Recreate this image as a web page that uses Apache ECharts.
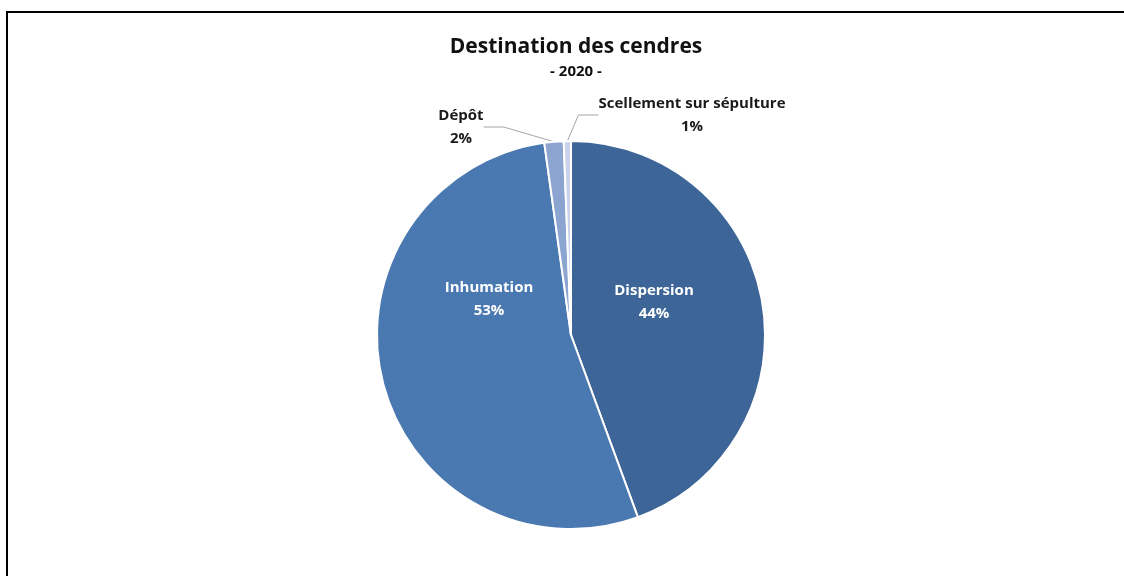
<!DOCTYPE html>
<html>
<head>
<meta charset="utf-8">
<script src="https://cdn.jsdelivr.net/npm/echarts@6/dist/echarts.min.js"></script>
<style>
  html, body { margin: 0; padding: 0; background: #fff; }
  #chart { width: 1124px; height: 576px; }
</style>
</head>
<body>
<div id="chart"></div>
<script>
// parts of the pie, clockwise from 12 o'clock
var categories = ["Dispersion", "Inhumation", "Dépôt", "Scellement sur sépulture"];
var shares = [44.4, 53.4, 1.6, 0.6];
var colors = ["#3d6597", "#4a78b0", "#8ba4d0", "#c9d2ea"];

// label centres, placed by hand like in the original
var labelPos = { 0: [654, 302], 1: [489, 299], 2: [461, 127], 3: [692, 115] };

var chart = echarts.init(document.getElementById("chart"), null, { renderer: "canvas" });

var font = "'Open Sans', 'Liberation Sans', sans-serif";

var data = categories.map(function (name, i) {
  var item = { name: name, value: shares[i], itemStyle: { color: colors[i] } };
  if (i < 2) {
    item.label = { position: "inside", color: "#fff" };
    item.labelLine = { show: false };
  } else {
    item.label = { position: "outside", color: "#1a1a1a" };
    item.labelLine = { show: true, length: 14, length2: 20, lineStyle: { color: "#a6a6a6", width: 1 } };
  }
  return item;
});

chart.setOption({
  animation: false,
  backgroundColor: "#fff",
  graphic: [
    {
      type: "rect",
      shape: { x: 7, y: 12, width: 1200, height: 700 },
      style: { fill: "none", stroke: "#000", lineWidth: 2 }
    }
  ],
  title: {
    text: "Destination des cendres",
    subtext: "- 2020 -",
    left: 571,
    textAlign: "center",
    top: 32,
    itemGap: 6,
    textStyle: { fontFamily: font, fontWeight: "bold", fontSize: 21, color: "#111" },
    subtextStyle: { fontFamily: font, fontWeight: "bold", fontSize: 15, color: "#111" }
  },
  series: [
    {
      type: "pie",
      center: [571, 335],
      radius: 194,
      startAngle: 90,
      clockwise: true,
      avoidLabelOverlap: false,
      itemStyle: { borderColor: "#fff", borderWidth: 2 },
      label: {
        fontFamily: font,
        fontWeight: "bold",
        fontSize: 15,
        lineHeight: 23,
        align: "center",
        formatter: function (p) {
          return p.name + "\n" + Math.round(p.percent) + "%";
        }
      },
      labelLayout: function (params) {
        var pos = labelPos[params.dataIndex];
        if (pos) {
          return { x: pos[0], y: pos[1], align: "center", verticalAlign: "middle" };
        }
        return {};
      },
      data: data
    }
  ]
});
</script>
</body>
</html>
